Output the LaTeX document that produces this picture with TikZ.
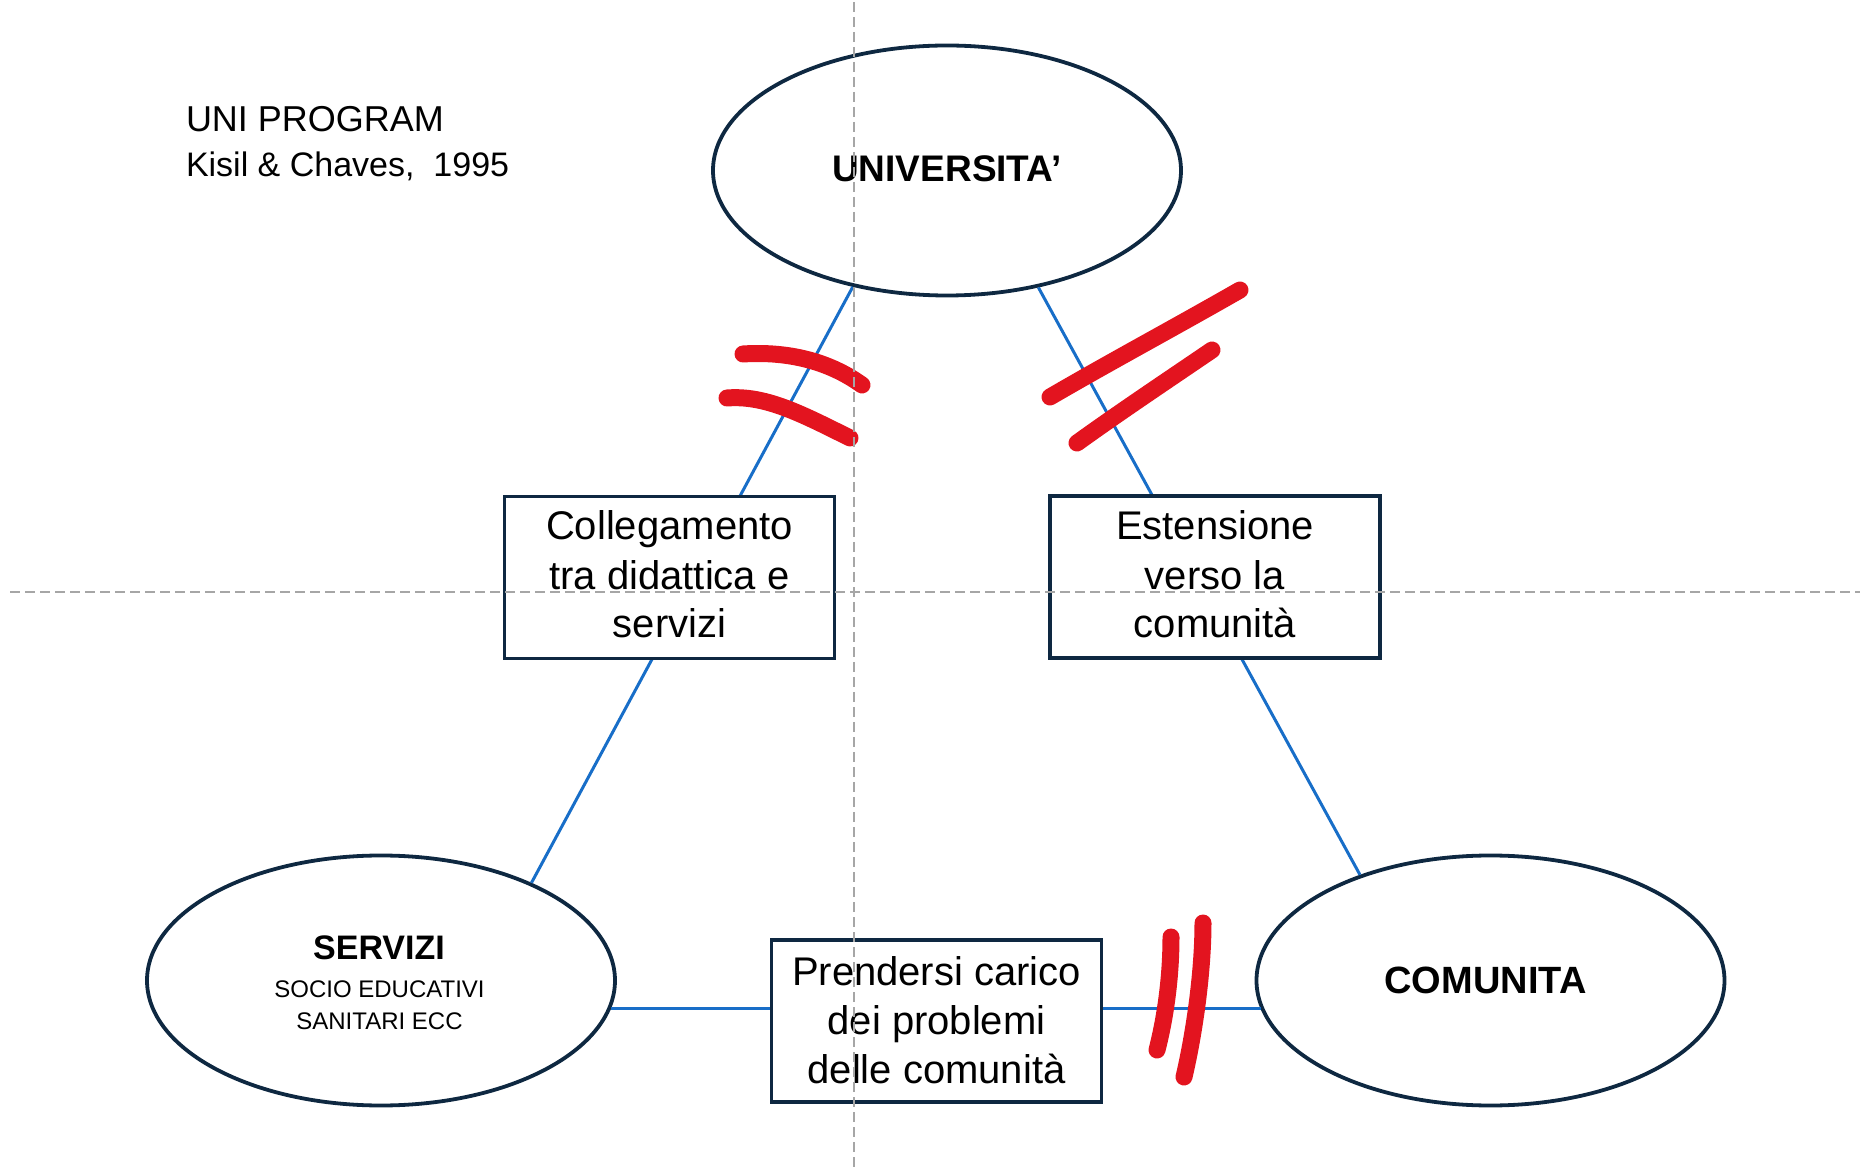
\documentclass[tikz,border=0pt]{standalone}
\usepackage{fontspec}
\setmainfont{Liberation Sans}
\usetikzlibrary{shapes.geometric}
\definecolor{navy}{HTML}{0E2841}
\definecolor{linkblue}{RGB}{24,110,200}
\definecolor{markred}{HTML}{E3141F}
\definecolor{guidegray}{HTML}{A6A6A6}
\begin{document}
\begin{tikzpicture}[x=0.5pt,y=-0.5pt,
  ell/.style={ellipse, draw=navy, line width=1.9pt, fill=white,
    minimum width=234pt, minimum height=125pt, inner sep=0pt},
  boxst/.style={rectangle, draw=navy, line width=1.9pt, fill=white,
    minimum width=165pt, minimum height=81pt, inner sep=0pt},
  conn/.style={draw=linkblue, line width=1.5pt},
  redstroke/.style={draw=markred, line width=8.5pt, line cap=round, line join=round},
  guide/.style={draw=guidegray, line width=1pt, dash pattern=on 5pt off 2.5pt},
  txt/.style={anchor=base, inner sep=0pt, outer sep=0pt},
  boxtxt/.style={txt, font=\fontsize{20pt}{24pt}\selectfont},
  bigbold/.style={txt, font=\fontsize{19pt}{23pt}\selectfont\bfseries},
  smalltxt/.style={txt, font=\fontsize{12pt}{15pt}\selectfont}
]
\useasboundingbox (0,0) rectangle (1860,1171);

% ellipses
\node[ell] (univ) at (947,170.5) {};
\node[ell] (serv) at (381,980.5) {};
\node[ell] (comu) at (1490.5,980.5) {};

% connectors (behind boxes)
\draw[conn] (univ.231.6) -- (serv.33.6);
\draw[conn] (univ.308.2) -- (comu.141.2);
\draw[conn] (serv.-7.1) -- (comu.187.1);

% boxes
\node[boxst] (b1) at (669.5,577.5) {};
\node[boxst] (b2) at (1215,577) {};
\node[boxst] (b3) at (936.5,1021) {};

% title
\node[txt, anchor=base west, font=\fontsize{18pt}{22pt}\selectfont] (title) at (186,132) {UNI PROGRAM};
\node[txt, anchor=base west, font=\fontsize{17pt}{21pt}\selectfont] (author) at (186,177) {Kisil \& Chaves,~~1995};

% ellipse labels
\node[bigbold, font=\fontsize{18.5pt}{22pt}\selectfont\bfseries] (tuniv) at (947,182) {UNIVERSITA’};
\node[bigbold, font=\fontsize{17pt}{21pt}\selectfont\bfseries] (tserv) at (379,959) {SERVIZI};
\node[smalltxt] (tserv2) at (379.5,997) {SOCIO EDUCATIVI};
\node[smalltxt] (tserv3) at (379.5,1029) {SANITARI ECC};
\node[bigbold] (tcomu) at (1485.5,993) {COMUNITA};

% box texts
\node[boxtxt] (b1a) at (669.5,540) {Collegamento};
\node[boxtxt] (b1b) at (669.5,590) {tra didattica e};
\node[boxtxt] (b1c) at (669.5,638) {servizi};
\node[boxtxt] (b2a) at (1215,540) {Estensione};
\node[boxtxt] (b2b) at (1215,590) {verso la};
\node[boxtxt] (b2c) at (1215,638) {comunità};
\node[boxtxt] (b3a) at (936.5,985) {Prendersi carico};
\node[boxtxt] (b3b) at (936.5,1034) {dei problemi};
\node[boxtxt] (b3c) at (936.5,1083) {delle comunità};

% red hand-drawn marks
\draw[redstroke] (743,354) .. controls (790,351) and (830,362) .. (862,385);
\draw[redstroke] (727,398) .. controls (765,395) and (800,413) .. (850,438);
\draw[redstroke] (1050,397) .. controls (1110,362) and (1170,330) .. (1240,290);
\draw[redstroke] (1077,443) .. controls (1120,412) and (1165,382) .. (1212,350);
\draw[redstroke] (1171,937) .. controls (1171,975) and (1166,1015) .. (1157,1050);
\draw[redstroke] (1203,923) .. controls (1203,970) and (1195,1030) .. (1184,1077);

% guide lines on top
\coordinate (vtop) at (854,2);
\coordinate (vbot) at (854,1171);
\coordinate (hl) at (10,592);
\coordinate (hr) at (1860,592);
\draw[guide] (vtop) -- (vbot);
\draw[guide] (hl) -- (hr);
\end{tikzpicture}
\end{document}
